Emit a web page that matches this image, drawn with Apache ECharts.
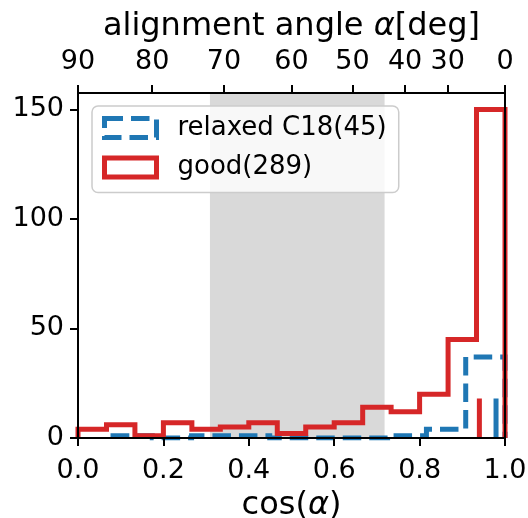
<!DOCTYPE html>
<html>
<head>
<meta charset="utf-8">
<script src="https://cdn.jsdelivr.net/npm/echarts@6/dist/echarts.min.js"></script>
<style>html,body{margin:0;padding:0;background:#fff;}#c{width:528px;height:518px;}</style>
</head>
<body>
<div id="c"></div>
<script>
// ---- data ----
const redName = 'good(289)';
const blueName = 'relaxed C18(45)';
const redEdges = [0, 0.0667, 0.1333, 0.2, 0.2667, 0.3333, 0.4, 0.4667, 0.5333, 0.6, 0.6667, 0.7333, 0.8, 0.8667, 0.9333, 1.0];
const redCounts = [4, 6, 1, 7, 4, 5, 7, 2, 5, 7, 14, 12, 20, 45, 150];
const blueEdges = [0.082, 0.174, 0.266, 0.357, 0.449, 0.541, 0.633, 0.725, 0.816, 0.908, 1.0];
const blueCounts = [1, 0, 1, 1, 0, 0, 0, 1, 4, 37];
const redMarker = [0.940, 18];
const blueMarker = [0.979, 18];
const bandRange = [0.309, 0.718];
const bottomTicks = [0, 0.2, 0.4, 0.6, 0.8, 1.0];
const yTicks = [0, 50, 100, 150];
const topTickDeg = [90, 80, 70, 60, 50, 40, 30, 0];

const FONT = 'DejaVu Sans';
const BLUE = '#1f77b4';
const RED = '#d62728';
const TICK_FS = 27;
const LEGEND_FS = 26;
const LABEL_FS = 32;

function stepPoints(edges, counts) {
  const pts = [[edges[0], 0]];
  for (let i = 0; i < counts.length; i++) {
    pts.push([edges[i], counts[i]]);
    pts.push([edges[i + 1], counts[i]]);
  }
  pts.push([edges[edges.length - 1], 0]);
  return pts;
}
const topTickPos = topTickDeg.map(d => Math.cos(d * Math.PI / 180));

const axisLineStyle = { color: '#000', width: 2 };
const tickStyle = { show: true, inside: false, length: 8, lineStyle: { color: '#000', width: 2 } };
const nameRich = {
  n: { fontSize: LABEL_FS, fontFamily: FONT, color: '#000' },
  i: { fontSize: LABEL_FS, fontFamily: FONT, fontStyle: 'italic', color: '#000' }
};

const chart = echarts.init(document.getElementById('c'), null, { renderer: 'canvas' });
chart.setOption({
  animation: false,
  backgroundColor: '#fff',
  textStyle: { fontFamily: FONT },
  grid: { left: 78, right: 23, top: 93, bottom: 80, containLabel: false, outerBoundsMode: 'none' },
  xAxis: [
    {
      type: 'value', position: 'bottom', min: 0, max: 1, interval: 0.2, z: 6,
      axisLine: { show: true, onZero: false, lineStyle: axisLineStyle },
      axisTick: Object.assign({ customValues: bottomTicks }, tickStyle),
      axisLabel: { customValues: bottomTicks, fontSize: TICK_FS, color: '#000', margin: 19, fontFamily: FONT,
        formatter: v => v.toFixed(1) },
      splitLine: { show: false },
      name: '{n|cos(}{i|α}{n|)}', nameLocation: 'middle', nameGap: 52,
      nameTextStyle: { rich: nameRich }
    },
    {
      type: 'value', position: 'top', min: 0, max: 1, z: 6,
      axisLine: { show: true, onZero: false, lineStyle: axisLineStyle },
      axisTick: Object.assign({ customValues: topTickPos }, tickStyle),
      axisLabel: { customValues: topTickPos, fontSize: TICK_FS, color: '#000', margin: 18, fontFamily: FONT,
        formatter: v => {
          let best = 0, bd = 1e9;
          topTickPos.forEach((p, i) => { const d = Math.abs(p - v); if (d < bd) { bd = d; best = i; } });
          return String(topTickDeg[best]);
        } },
      splitLine: { show: false },
      name: '{n|alignment angle }{i|α}{n|[deg]}', nameLocation: 'middle', nameGap: 48,
      nameTextStyle: { rich: nameRich }
    }
  ],
  yAxis: [
    {
      type: 'value', position: 'left', min: 0, max: 157.5, z: 6,
      axisLine: { show: true, onZero: false, lineStyle: axisLineStyle },
      axisTick: Object.assign({ customValues: yTicks }, tickStyle),
      axisLabel: { customValues: yTicks, fontSize: TICK_FS, color: '#000', margin: 14, fontFamily: FONT },
      splitLine: { show: false }
    },
    {
      type: 'value', position: 'right', min: 0, max: 157.5, z: 6,
      axisLine: { show: true, onZero: false, lineStyle: axisLineStyle },
      axisTick: { show: false }, axisLabel: { show: false }, splitLine: { show: false }
    }
  ],
  legend: {
    orient: 'vertical', left: 92, top: 106,
    padding: [7, 12, 10, 10],
    backgroundColor: 'rgba(255,255,255,0.8)', borderColor: '#cccccc', borderWidth: 1.5, borderRadius: 6,
    itemWidth: 52, itemHeight: 19, itemGap: 9.5,
    textStyle: { fontSize: LEGEND_FS, fontFamily: FONT, color: '#000', lineHeight: 30, padding: [0, 0, 0, 16] },
    data: [
      { name: blueName, icon: 'rect', itemStyle: { color: 'rgba(0,0,0,0)', borderColor: BLUE, borderWidth: 5, borderType: [18.5, 8], borderCap: 'butt' } },
      { name: redName, icon: 'rect', itemStyle: { color: 'rgba(0,0,0,0)', borderColor: RED, borderWidth: 5 } }
    ]
  },
  series: [
    {
      name: 'band', type: 'line', data: [[0, 0]], symbol: 'none', lineStyle: { opacity: 0 }, z: 1, silent: true,
      markArea: { silent: true, itemStyle: { color: '#d9d9d9' }, data: [[{ xAxis: bandRange[0] }, { xAxis: bandRange[1] }]] }
    },
    {
      name: blueName, type: 'line', data: stepPoints(blueEdges, blueCounts), symbol: 'none', z: 3,
      itemStyle: { color: BLUE },
      lineStyle: { color: BLUE, width: 5, type: [18.5, 8], cap: 'butt', join: 'miter' }
    },
    {
      name: redName, type: 'line', data: stepPoints(redEdges, redCounts), symbol: 'none', z: 4,
      itemStyle: { color: RED },
      lineStyle: { color: RED, width: 5, cap: 'butt', join: 'miter' }
    },
    {
      name: 'good-marker', type: 'line', data: [[redMarker[0], 0], [redMarker[0], redMarker[1]]], symbol: 'none', z: 4,
      lineStyle: { color: RED, width: 5, cap: 'butt' }
    },
    {
      name: 'relaxed-marker', type: 'line', data: [[blueMarker[0], 0], [blueMarker[0], blueMarker[1]]], symbol: 'none', z: 4,
      lineStyle: { color: BLUE, width: 5, cap: 'butt' }
    }
  ]
});
</script>
</body>
</html>
